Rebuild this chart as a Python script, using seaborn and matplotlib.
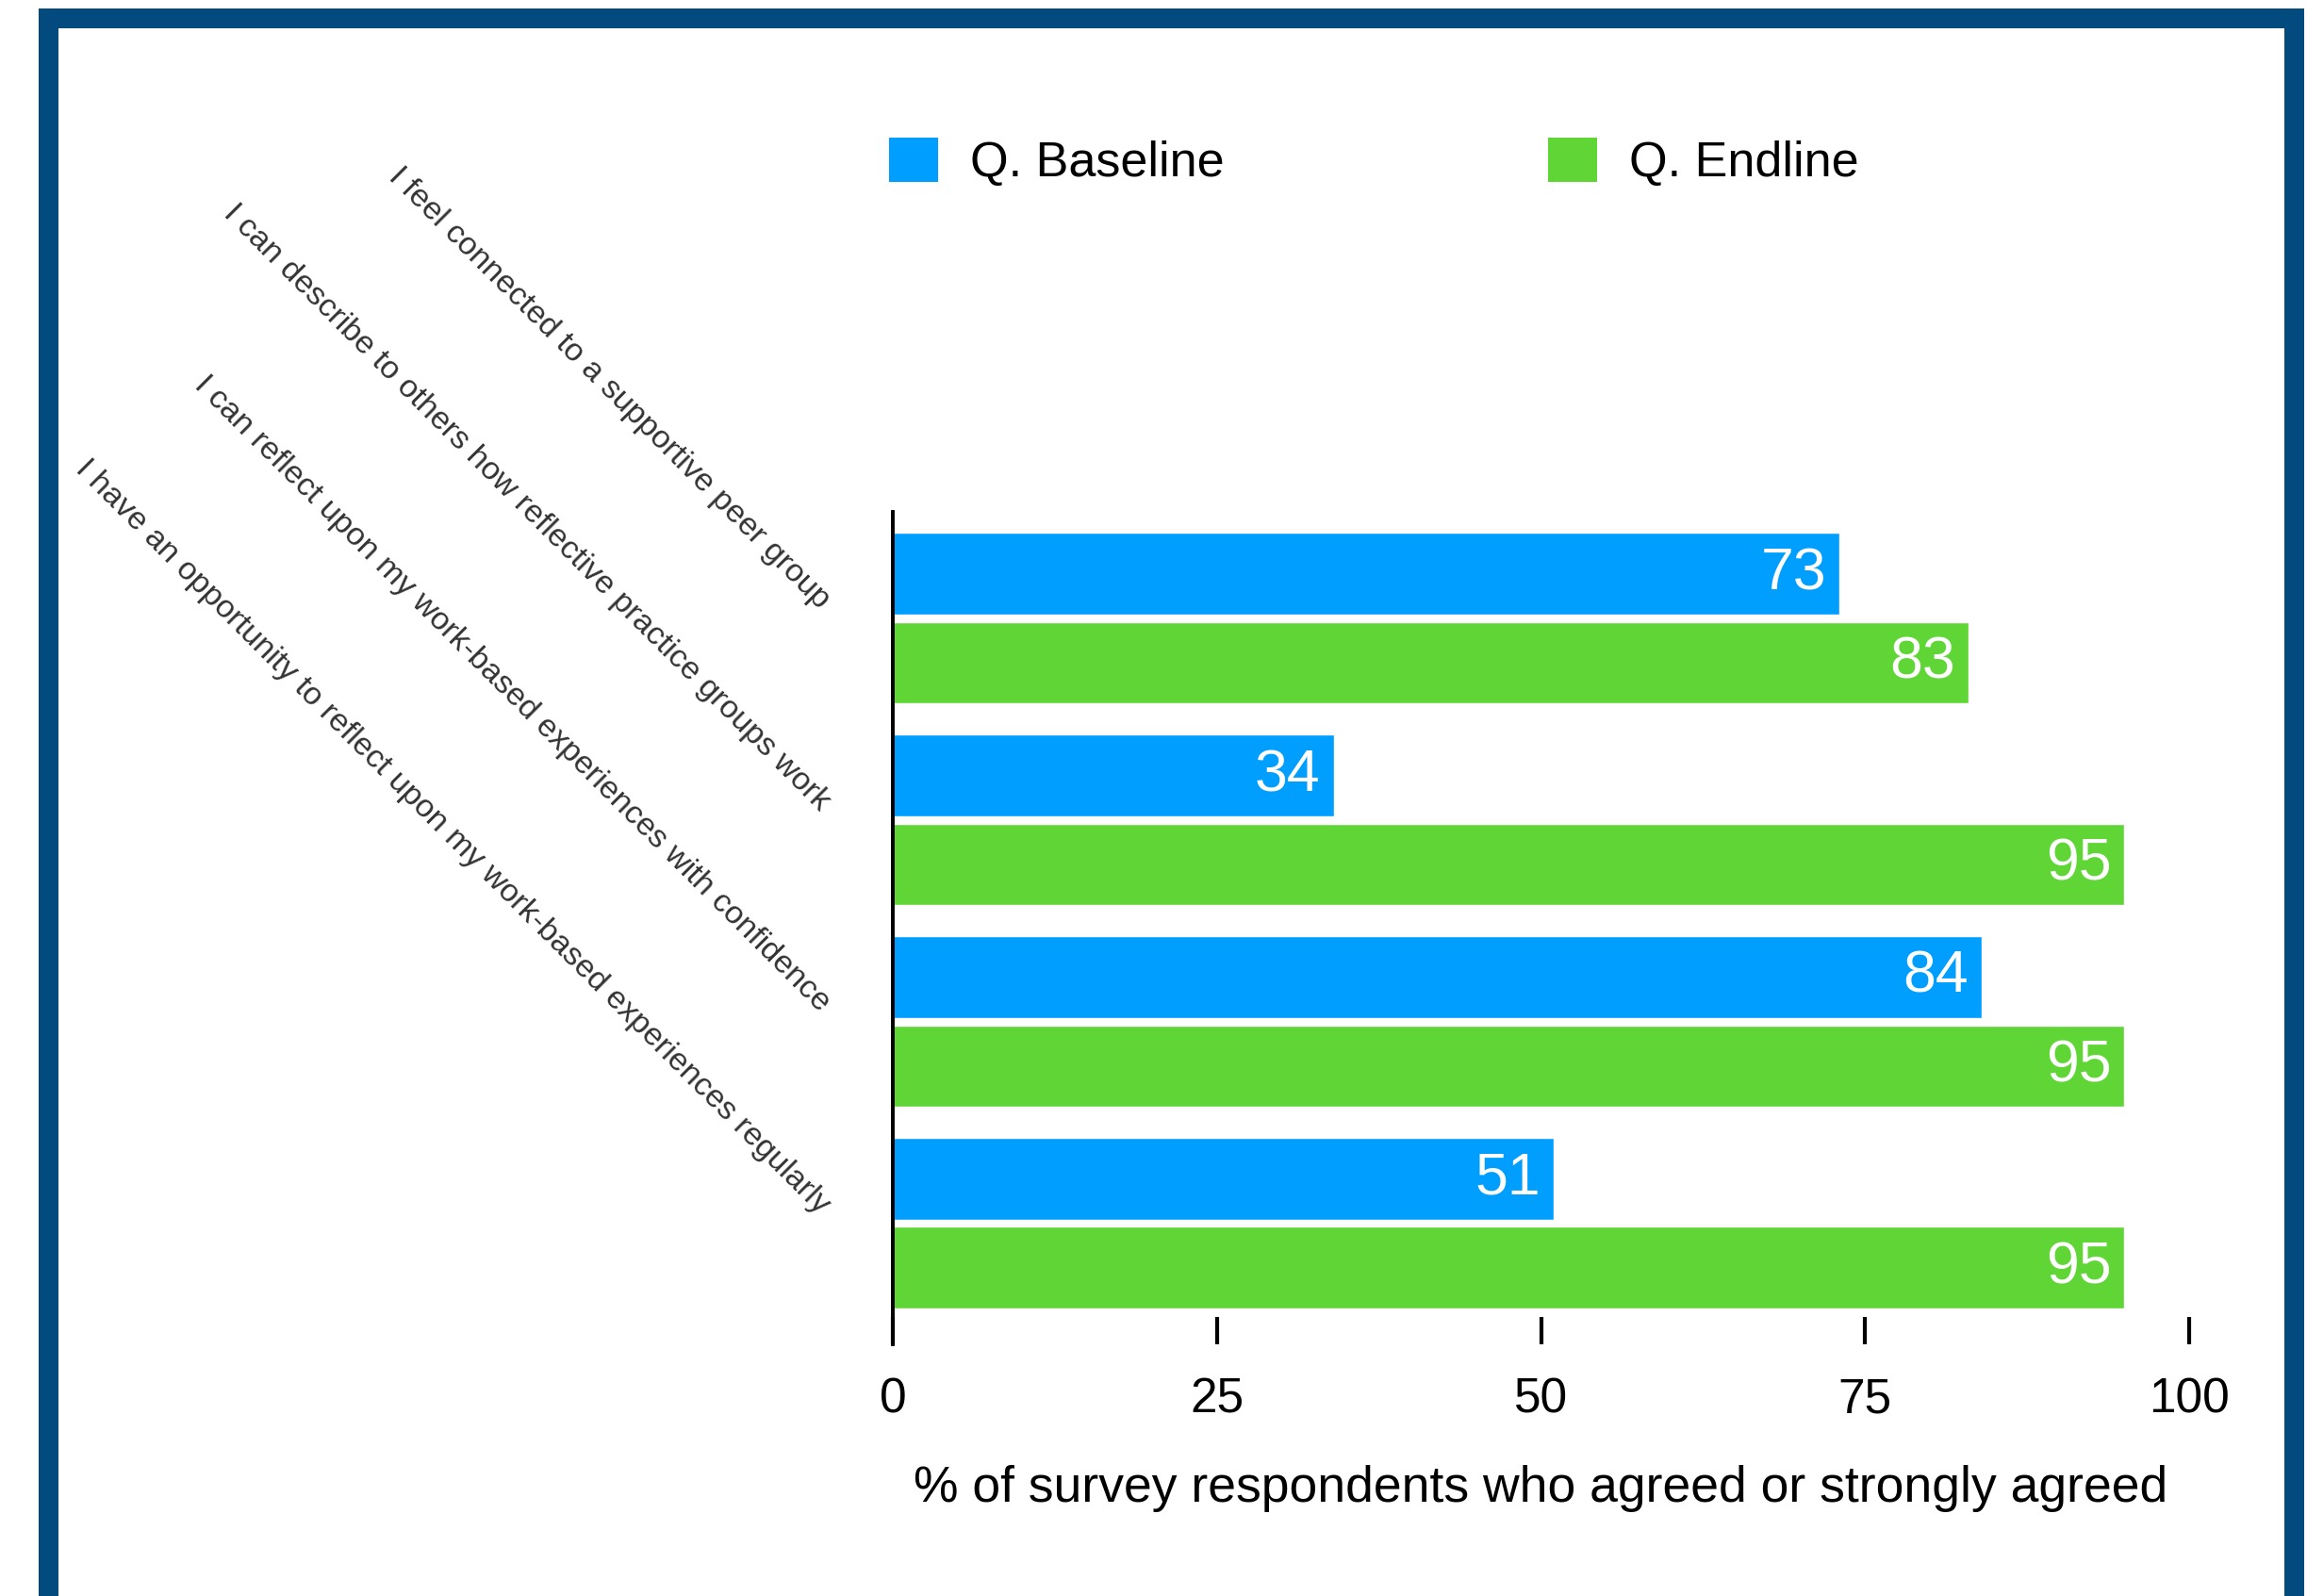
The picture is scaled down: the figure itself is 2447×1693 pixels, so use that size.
import pandas as pd
import matplotlib.pyplot as plt
import seaborn as sns
from matplotlib.patches import Patch, Rectangle
from matplotlib.transforms import ScaledTranslation


statements = [
    "I feel connected to a supportive peer group",
    "I can describe to others how reflective practice groups work",
    "I can reflect upon my work-based experiences with confidence",
    "I have an opportunity to reflect upon my work-based experiences regularly",
]
baseline = [73, 34, 84, 51]
endline = [83, 95, 95, 95]
series = ["Q. Baseline", "Q. Endline"]
colors = ["#009FFF", "#5FD636"]
ticks = [0, 25, 50, 75, 100]

df = pd.DataFrame({
    "Statement": statements * 2,
    "Survey": [series[0]] * 4 + [series[1]] * 4,
    "Value": baseline + endline,
})

sns.set_style('white')
plt.rcParams['font.family'] = ['Liberation Sans', 'DejaVu Sans']
plt.rcParams['text.color'] = 'black'

fig = plt.figure(figsize=(24.47, 16.93), dpi=100)
ax = fig.add_axes([0.387, 0.1577, 0.562, 0.5217])

sns.barplot(data=df, x="Value", y="Statement", hue="Survey",
            palette=colors, orient="h", width=0.882, gap=0.0816,
            saturation=1, legend=False, ax=ax)

for c in ax.containers:
    ax.bar_label(c, fmt="%d", padding=-14 * 0.72, color="white",
                 fontsize=45)
for lab in ax.texts:
    lab.set_ha("right")

ax.set_xlim(0, 100)
ax.set_ylim(3.6, -0.528)
ax.set_xticks(ticks)
ax.set_xticklabels([str(t) for t in ticks])
ax.tick_params(axis="x", bottom=True, direction="in", length=21, width=3,
               color="black", labelcolor="black", pad=25, labelsize=37)
ax.tick_params(axis="y", left=False, length=0, pad=52)

# slanted statement labels, nudged up a little
nudge = ScaledTranslation(0, 0.15, fig.dpi_scale_trans)
for lab in ax.get_yticklabels():
    lab.set_rotation(-45)
    lab.set_ha("right")
    lab.set_va("center")
    lab.set_rotation_mode("anchor")
    lab.set_fontsize(24.5)
    lab.set_color("#333333")
    lab.set_transform(lab.get_transform() + nudge)

ax.set_xlabel("% of survey respondents who agreed or strongly agreed",
              fontsize=38.5, labelpad=32, color="black")
ax.set_ylabel("")

sns.despine(ax=ax, top=True, right=True, bottom=True, left=False)
ax.spines["left"].set_color("black")
ax.spines["left"].set_linewidth(2.8)

handles = [Patch(facecolor=col, edgecolor="none") for col in colors]
fig.legend(handles, series, loc="upper left",
           bbox_to_anchor=(943 / 2447, 1 - 146 / 1693), ncol=2,
           frameon=False, fontsize=37.5, borderpad=0, borderaxespad=0,
           handlelength=1.0, handleheight=1.0, handletextpad=0.65,
           columnspacing=6.6)

# dark blue frame round the whole picture
fig.patches.append(Rectangle((51 / 2447, -0.0027), (2433 - 51) / 2447,
                             0.98907 + 0.0027, transform=fig.transFigure,
                             fill=False, edgecolor="#034A7E",
                             linewidth=21 * 0.72, clip_on=False))

plt.savefig("out.png", dpi=100)
